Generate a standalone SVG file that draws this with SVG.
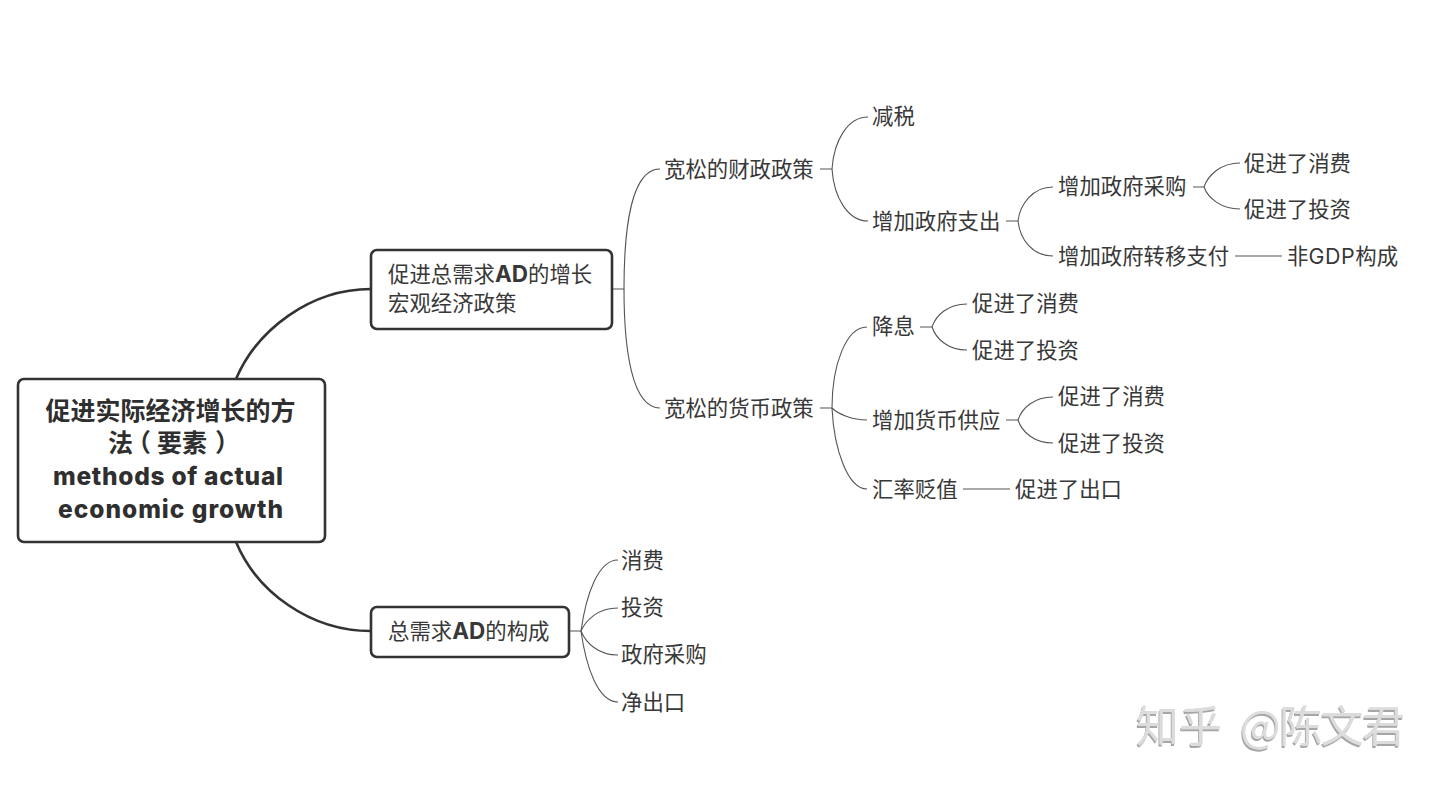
<svg xmlns="http://www.w3.org/2000/svg" width="1440" height="785" viewBox="0 0 1440 785">
<defs>
<filter id="emboss" x="-5%" y="-10%" width="110%" height="125%">
<feOffset in="SourceAlpha" dx="-1.2" dy="1.6" result="o"/>
<feComposite in="o" in2="SourceAlpha" operator="out" result="edge"/>
<feFlood flood-color="#a6a6a6"/>
<feComposite in2="edge" operator="in" result="shade"/>
<feMerge><feMergeNode in="SourceGraphic"/><feMergeNode in="shade"/></feMerge>
</filter>
</defs>
<style>
text{font-family:"Noto Sans CJK SC","Noto Sans",sans-serif;font-size:21.4px;fill:#383838}
.lat{font-family:"Inter","Noto Sans CJK SC",sans-serif}
.wide{letter-spacing:.6px;font-size:21.4px}
.ad{font-family:"Inter",sans-serif;font-weight:700;font-size:22.5px}
.root{font-size:25px;font-weight:700;text-anchor:middle;fill:#2f2f2f}
.rootl{font-family:"Inter",sans-serif;font-size:24.5px;font-weight:800;fill:#2f2f2f}
.box{fill:#fff;stroke:#333;stroke-width:2.6}
.thick{fill:none;stroke:#333;stroke-width:2.6}
.thin{fill:none;stroke:#555;stroke-width:1.1}
.wm{font-size:43px;fill:#dcdcdc}
</style>
<rect width="1440" height="785" fill="#fff"/>
<g id="connectors">
<path class="thick" d="M236 379C257 330 310 289 371 289"/>
<path class="thick" d="M236 542C257 592 310 631 371 631"/>
<path class="thin" d="M612 289H624C624 225 632 169 660 169"/>
<path class="thin" d="M624 289C624 350 632 408 660 408"/>
<path class="thin" d="M820 169H832C834 140 848 117 868 117"/>
<path class="thin" d="M832 169C834 198 848 221 868 221"/>
<path class="thin" d="M1006 221H1018C1020 204 1033 187 1053 187"/>
<path class="thin" d="M1018 221C1020 240 1033 256 1053 256"/>
<path class="thin" d="M1193 187H1204C1208 175 1221 163 1240 163"/>
<path class="thin" d="M1204 187C1208 198 1221 209 1240 209"/>
<path class="thin" d="M1235 256H1282"/>
<path class="thin" d="M820 408H832C832 365 846 327 867 327"/>
<path class="thin" d="M832 408C838 414 852 420 867 420"/>
<path class="thin" d="M832 408C834 450 848 489 867 489"/>
<path class="thin" d="M920 327H932C936 315 948 304 967 304"/>
<path class="thin" d="M932 327C936 339 948 350 967 350"/>
<path class="thin" d="M1006 420H1018C1022 408 1034 397 1053 397"/>
<path class="thin" d="M1018 420C1022 432 1034 443 1053 443"/>
<path class="thin" d="M963 489H1010"/>
<path class="thin" d="M569 631H581C586 595 598 560 618 560"/>
<path class="thin" d="M581 631C586 620 598 608 618 608"/>
<path class="thin" d="M581 631C586 643 598 655 618 655"/>
<path class="thin" d="M581 631C586 667 598 702 618 702"/>
</g>
<g id="n-root"><rect class="box" x="18" y="379" width="307" height="163" rx="6"/>
<text class="root" x="170.500" y="420">促进实际经济增长的方</text>
<text class="root" style="text-anchor:start" x="108 126 157 182 215" y="452">法（要素）</text>
<text class="rootl" x="53" y="485" textLength="230">methods of actual</text>
<text class="rootl" x="58" y="518" textLength="225">economic growth</text></g>
<g id="n-ad"><rect class="box" x="371" y="250" width="241" height="79" rx="6"/>
<text x="388" y="282">促进总需求<tspan class="ad">AD</tspan>的增长</text>
<text x="388" y="311">宏观经济政策</text></g>
<g id="n-comp"><rect class="box" x="371" y="607" width="198" height="50" rx="6"/>
<text x="388" y="638.500">总需求<tspan class="ad">AD</tspan>的构成</text></g>
<g id="n-fiscal"><text x="664" y="177">宽松的财政政策</text></g>
<g id="n-cut"><text x="872" y="124">减税</text></g>
<g id="n-spend"><text x="872" y="229">增加政府支出</text></g>
<g id="n-purchase"><text x="1058" y="194">增加政府采购</text></g>
<g id="n-p1"><text x="1244" y="170.500">促进了消费</text></g>
<g id="n-p2"><text x="1244" y="217">促进了投资</text></g>
<g id="n-transfer"><text x="1058" y="263.500">增加政府转移支付</text></g>
<g id="n-nongdp"><text class="lat" x="1287" y="263.500">非<tspan class="wide">GDP</tspan>构成</text></g>
<g id="n-mon"><text x="664" y="415.500">宽松的货币政策</text></g>
<g id="n-rate"><text x="872" y="334">降息</text></g>
<g id="n-r1"><text x="972" y="310.500">促进了消费</text></g>
<g id="n-r2"><text x="972" y="357.500">促进了投资</text></g>
<g id="n-supply"><text x="872" y="427.500">增加货币供应</text></g>
<g id="n-s1"><text x="1058" y="404">促进了消费</text></g>
<g id="n-s2"><text x="1058" y="450.500">促进了投资</text></g>
<g id="n-fx"><text x="872" y="497">汇率贬值</text></g>
<g id="n-export"><text x="1015" y="497">促进了出口</text></g>
<g id="n-c1"><text x="621" y="568">消费</text></g>
<g id="n-c2"><text x="621" y="615">投资</text></g>
<g id="n-c3"><text x="621" y="662">政府采购</text></g>
<g id="n-c4"><text x="621" y="710">净出口</text></g>
<g id="watermark" filter="url(#emboss)"><text class="wm" x="1136" y="742">知乎</text><text class="wm" x="1240" y="742" textLength="165">@陈文君</text></g>
</svg>
